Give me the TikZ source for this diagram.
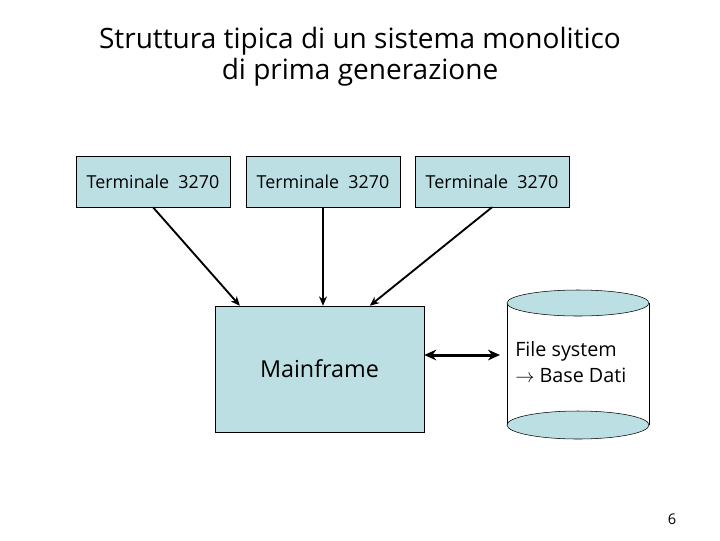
\documentclass[tikz,border=0pt]{standalone}
\usepackage{fontspec}
\setmainfont{Open Sans}
\usetikzlibrary{calc,arrows.meta}
\definecolor{boxblu}{RGB}{187,223,227}

\begin{document}
\begin{tikzpicture}[x=0.75pt,y=0.75pt,yscale=-1,xscale=1]
	\useasboundingbox (0,0) rectangle (720,540);
	\tikzset{term/.style={draw, fill=boxblu, inner sep=0pt, minimum width=115.5pt, minimum height=38.25pt, font=\fontsize{13.4}{16}\selectfont},
		link/.style={line width=1.4pt, -{Stealth[length=7pt,width=6pt]}}}

	% titolo
	\node (title) at (360,57) [align=center, font=\fontsize{21}{23.5}\selectfont] {Struttura tipica di un sistema monolitico\\di prima generazione};

	% terminali
	\node (t1) at (153,181.5) [term] {Terminale\ \ 3270};
	\node (t2) at (323,181.5) [term] {Terminale\ \ 3270};
	\node (t3) at (492,181.5) [term] {Terminale\ \ 3270};

	\node (main) at (319.5,369) [draw, fill=boxblu, inner sep=0pt, minimum width=156.75pt, minimum height=94.5pt, font=\fontsize{17.5}{21}\selectfont] {Mainframe};

	\draw [link] (t1.south) -- ($(main.north west)!0.12!(main.north east)$);
	\draw [link] (t2.south) -- (t2.south |- main.north);
	\draw [link] (t3.south) -- ($(main.north west)!0.74!(main.north east)$);

	% cilindro
	\fill [white] (507,303) rectangle (649,425);
	\draw (507,303) -- (507,425) (649,303) -- (649,425);
	\draw [fill=boxblu] (578,425) ellipse [x radius=71, y radius=14];
	\draw [fill=boxblu] (578,303) ellipse [x radius=71, y radius=13];
	\node (db) at (515,362) [anchor=west, align=left, inner sep=0pt, font=\fontsize{14.8}{19}\selectfont] {File system\\$\rightarrow$ Base Dati};

	\coordinate (dbl) at (500,355);
	\draw [line width=2.25pt, {Stealth[length=9pt,width=8pt]}-{Stealth[length=9pt,width=8pt]}] (main.east |- dbl) -- (dbl);

	\node (pg) at (672,519) [font=\fontsize{11}{13}\selectfont] {6};
\end{tikzpicture}
\end{document}
